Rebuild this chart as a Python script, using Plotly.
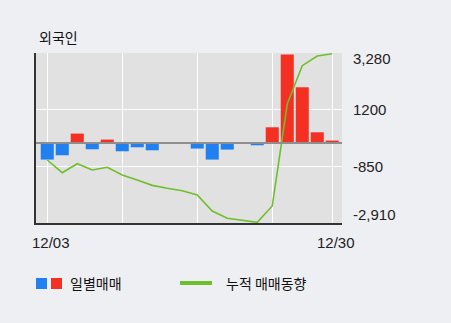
import numpy as np
import plotly.graph_objects as go

# ---- data ----
DATES = ['12/03', '12/06', '12/07', '12/08', '12/09', '12/10', '12/13', '12/14', '12/15', '12/16',
         '12/17', '12/20', '12/21', '12/22', '12/23', '12/24', '12/27', '12/28', '12/29', '12/30']
DAILY = [-601, -444, 346, -226, 127, -299, -153, -262, 0, 0,
         -200, -601, -237, 0, -80, 575, 3222, 2032, 393, 91]
CUMULATIVE = [-616, -1078, -751, -980, -882, -1162, -1344, -1540, -1646, -1733,
              -1890, -2473, -2739, -2800, -2885, -2291, 1420, 2818, 3171, 3250]
Y_LABELS = ['3,280', '1200', '-850', '-2,910']
Y_MIN, Y_MAX = -2910, 3280
X_LABELS = {0: '12/03', 19: '12/30'}
TITLE = '외국인'
LEGEND_BAR = '일별매매'
LEGEND_LINE = '누적 매매동향'

# ---- styles ----
W, H = 451, 323
L, R, T, B = 36, 342, 53, 223
BG = '#eeeff3'
PLOT_BG = '#e1e1e1'
BLUE = '#2080f0'
RED = '#f33021'
GREEN = '#6fbf2c'
AX = '#333333'
KFONT = 'Noto Sans CJK KR'
NFONT = 'Liberation Sans'

def px(x):
    return (x - L) / (R - L)

def py(y):
    return (B - y) / (B - T)

x = list(range(len(DATES)))
colors = [RED if v > 0 else BLUE for v in DAILY]

fig = go.Figure()
fig.add_trace(go.Bar(x=x, y=DAILY, marker=dict(color=colors, line=dict(width=0)),
                     showlegend=False, hoverinfo='skip'))
fig.add_trace(go.Scatter(x=x, y=CUMULATIVE, mode='lines',
                         line=dict(color=GREEN, width=1.6), showlegend=False, hoverinfo='skip'))

grid_vals = list(np.linspace(Y_MAX, Y_MIN, len(Y_LABELS)))

fig.update_layout(
    width=W, height=H,
    margin=dict(l=L, r=W - R, t=T, b=H - B, pad=0),
    paper_bgcolor=BG, plot_bgcolor=PLOT_BG,
    bargap=0.13,
    xaxis=dict(range=[-0.75, 19.65], tickvals=[0, 5, 10, 15, 19], showticklabels=False,
               showgrid=True, gridcolor='white', gridwidth=1, zeroline=False,
               showline=True, linecolor=AX, linewidth=2, ticks='', fixedrange=True),
    yaxis=dict(range=[Y_MIN, Y_MAX], tickvals=grid_vals, showticklabels=False,
               showgrid=True, gridcolor='white', gridwidth=1, zeroline=False,
               showline=True, linecolor=AX, linewidth=2, ticks='', fixedrange=True),
    showlegend=False,
)

# zero line above bars
fig.add_shape(type='line', xref='paper', x0=0, x1=1, yref='y', y0=0, y1=0,
              line=dict(color='#8e8e8e', width=2), layer='above')

annotations = []
# title
annotations.append(dict(text=TITLE, xref='paper', yref='paper', x=px(37), y=py(37),
                        xanchor='left', yanchor='middle', showarrow=False,
                        font=dict(family=KFONT, size=14, color='#111')))
# right axis labels
shifts = [-5, 0, 0, 9]
for val, lab, sh in zip(grid_vals, Y_LABELS, shifts):
    annotations.append(dict(text=lab, xref='paper', yref='y', x=1, y=val, xshift=9,
                            yshift=sh, xanchor='left', yanchor='middle', showarrow=False,
                            font=dict(family=NFONT, size=15, color='#222')))
# x labels
for xi, lab in X_LABELS.items():
    annotations.append(dict(text=lab, xref='x', yref='paper', x=xi, y=0, xshift=4,
                            yshift=-19, xanchor='center', yanchor='middle', showarrow=False,
                            font=dict(family=NFONT, size=15, color='#222')))
# legend texts
annotations.append(dict(text=LEGEND_BAR, xref='paper', yref='paper', x=px(68), y=py(283),
                        xanchor='left', yanchor='middle', showarrow=False,
                        font=dict(family=KFONT, size=14, color='#111')))
annotations.append(dict(text=LEGEND_LINE, xref='paper', yref='paper', x=px(224), y=py(283),
                        xanchor='left', yanchor='middle', showarrow=False,
                        font=dict(family=KFONT, size=14, color='#111')))
fig.update_layout(annotations=annotations)

# legend symbols
fig.add_shape(type='rect', xref='paper', yref='paper', x0=px(36), x1=px(47), y0=py(289), y1=py(278),
              fillcolor=BLUE, line=dict(width=0))
fig.add_shape(type='rect', xref='paper', yref='paper', x0=px(51), x1=px(62), y0=py(289), y1=py(278),
              fillcolor=RED, line=dict(width=0))
fig.add_shape(type='line', xref='paper', yref='paper', x0=px(180), x1=px(212), y0=py(283), y1=py(283),
              line=dict(color=GREEN, width=4))

fig.write_html('out.html', config={'displayModeBar': False})
